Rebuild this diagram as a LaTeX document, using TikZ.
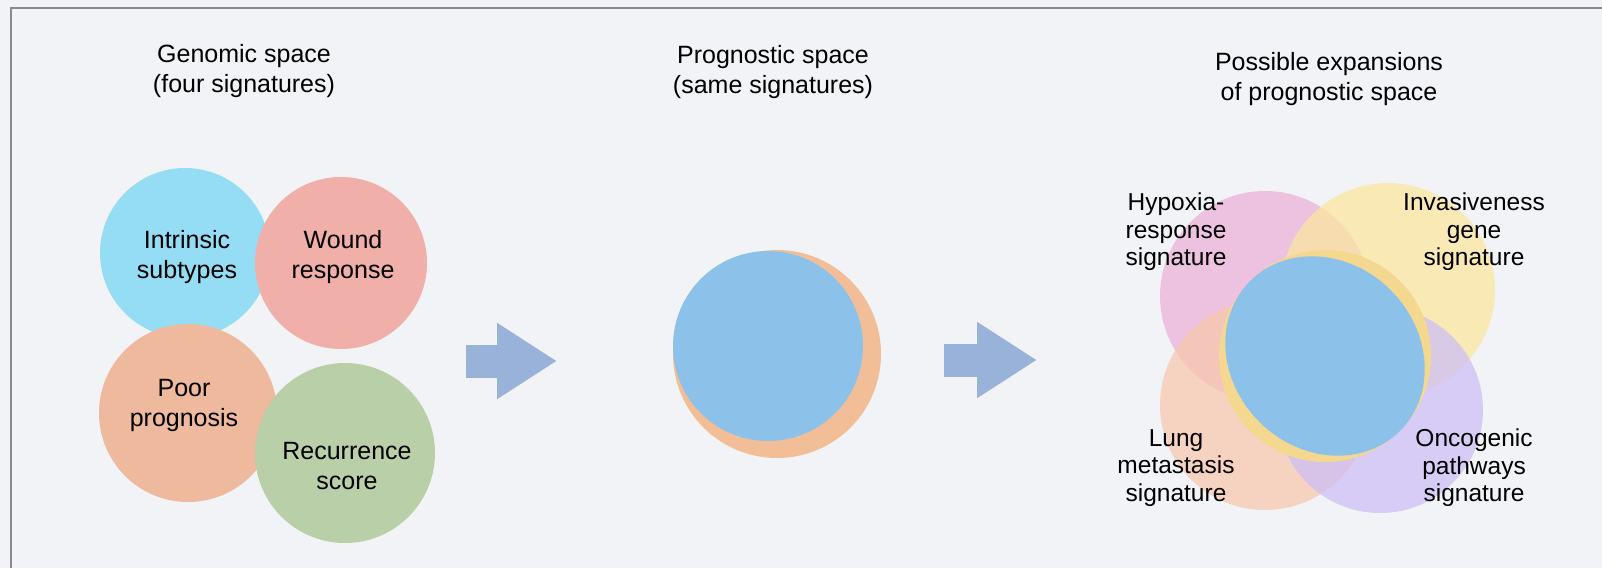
\documentclass[tikz,border=0pt]{standalone}
\usepackage{fontspec}
\setmainfont{Liberation Sans}
\usetikzlibrary{arrows.meta}
\definecolor{bgc}{HTML}{F2F3F6}
\definecolor{framec}{HTML}{8A8A8A}
\definecolor{cTL}{HTML}{94DDF5}
\definecolor{cTR}{HTML}{F0AFA8}
\definecolor{cBL}{HTML}{EEB99C}
\definecolor{cBR}{HTML}{B8CFA8}
\definecolor{progc}{HTML}{8CC2EA}
\definecolor{ringc}{HTML}{F2BE98}
\definecolor{ring2c}{HTML}{F4D890}
\definecolor{arrowc}{HTML}{99B2D9}
\definecolor{pUL}{HTML}{EBB2D9}
\definecolor{pUR}{HTML}{FCE6A0}
\definecolor{pLL}{HTML}{F8C8AE}
\definecolor{pLR}{HTML}{CDBFF5}
\begin{document}
\begin{tikzpicture}[x=1pt,y=-1pt,
  lbl/.style={align=center,font=\fontsize{25}{30}\selectfont,inner sep=0pt,text=black},
  lbl3/.style={align=center,font=\fontsize{24.5}{27.5}\selectfont,inner sep=0pt,text=black},
  blob/.style={circle,inner sep=0pt,draw=none},
  petal/.style={circle,inner sep=0pt,draw=none,fill opacity=0.75},
  fatarrow/.style={draw=arrowc,line width=33pt,-{Triangle[length=60pt,width=72pt]}}]
\useasboundingbox (0,0) rectangle (1602,568);
\fill[bgc] (0,0) rectangle (1602,568);
\draw[framec,line width=2.5pt] (11,568) -- (11,8) -- (1602,8);

% titles
\node[lbl] (t1) at (244,71) {Genomic space\\(four signatures)};
\node[lbl] (t2) at (773,72) {Prognostic space\\(same signatures)};
\node[lbl] (t3) at (1329,79) {Possible expansions\\of prognostic space};

% genomic space circles
\node[blob,fill=cTL,minimum size=170pt] (gTL) at (185,253) {};
\node[blob,fill=cTR,minimum size=172pt] (gTR) at (341,263) {};
\node[blob,fill=cBL,minimum size=178pt] (gBL) at (188,413) {};
\node[blob,fill=cBR,minimum size=180pt] (gBR) at (345,453) {};
\node[lbl] (lTL) at (187,257) {Intrinsic\\subtypes};
\node[lbl] (lTR) at (343,257) {Wound\\response};
\node[lbl] (lBL) at (184,405) {Poor\\prognosis};
\node[lbl] (lBR) at (347,466) {Recurrence\\score};

% arrow 1
\coordinate (a1s) at (466,361);
\coordinate (a1e) at (557,361);
\draw[fatarrow] (a1s) -- (a1e);

% prognostic space
\node[blob,fill=ringc,minimum size=208pt] (pOut) at (777,354) {};
\node[blob,fill=progc,minimum size=190pt] (pIn) at (768,346) {};

% arrow 2
\coordinate (a2s) at (944,360);
\coordinate (a2e) at (1037,360);
\draw[fatarrow] (a2s) -- (a2e);

% expansions
\node[petal,fill=pUL,minimum size=210pt] (eUL) at (1265,296) {};
\node[petal,fill=pUR,minimum size=214pt] (eUR) at (1388,290) {};
\node[petal,fill=pLL,minimum size=210pt] (eLL) at (1265,405) {};
\node[petal,fill=pLR,minimum size=206pt] (eLR) at (1380,410) {};
\node[blob,fill=ring2c,minimum size=212pt] (cOut) at (1325,356) {};
\fill[progc,rotate around={-45:(cOut.center)}] (cOut.center) ellipse[x radius=106pt,y radius=93pt];

\node[lbl3] (hyp) at (1176,232) {Hypoxia-\\response\\signature};
\node[lbl3] (inv) at (1474,232) {Invasiveness\\gene\\signature};
\node[lbl3] (lung) at (1176,468) {Lung\\metastasis\\signature};
\node[lbl3] (onc) at (1474,468) {Oncogenic\\pathways\\signature};
\end{tikzpicture}
\end{document}
